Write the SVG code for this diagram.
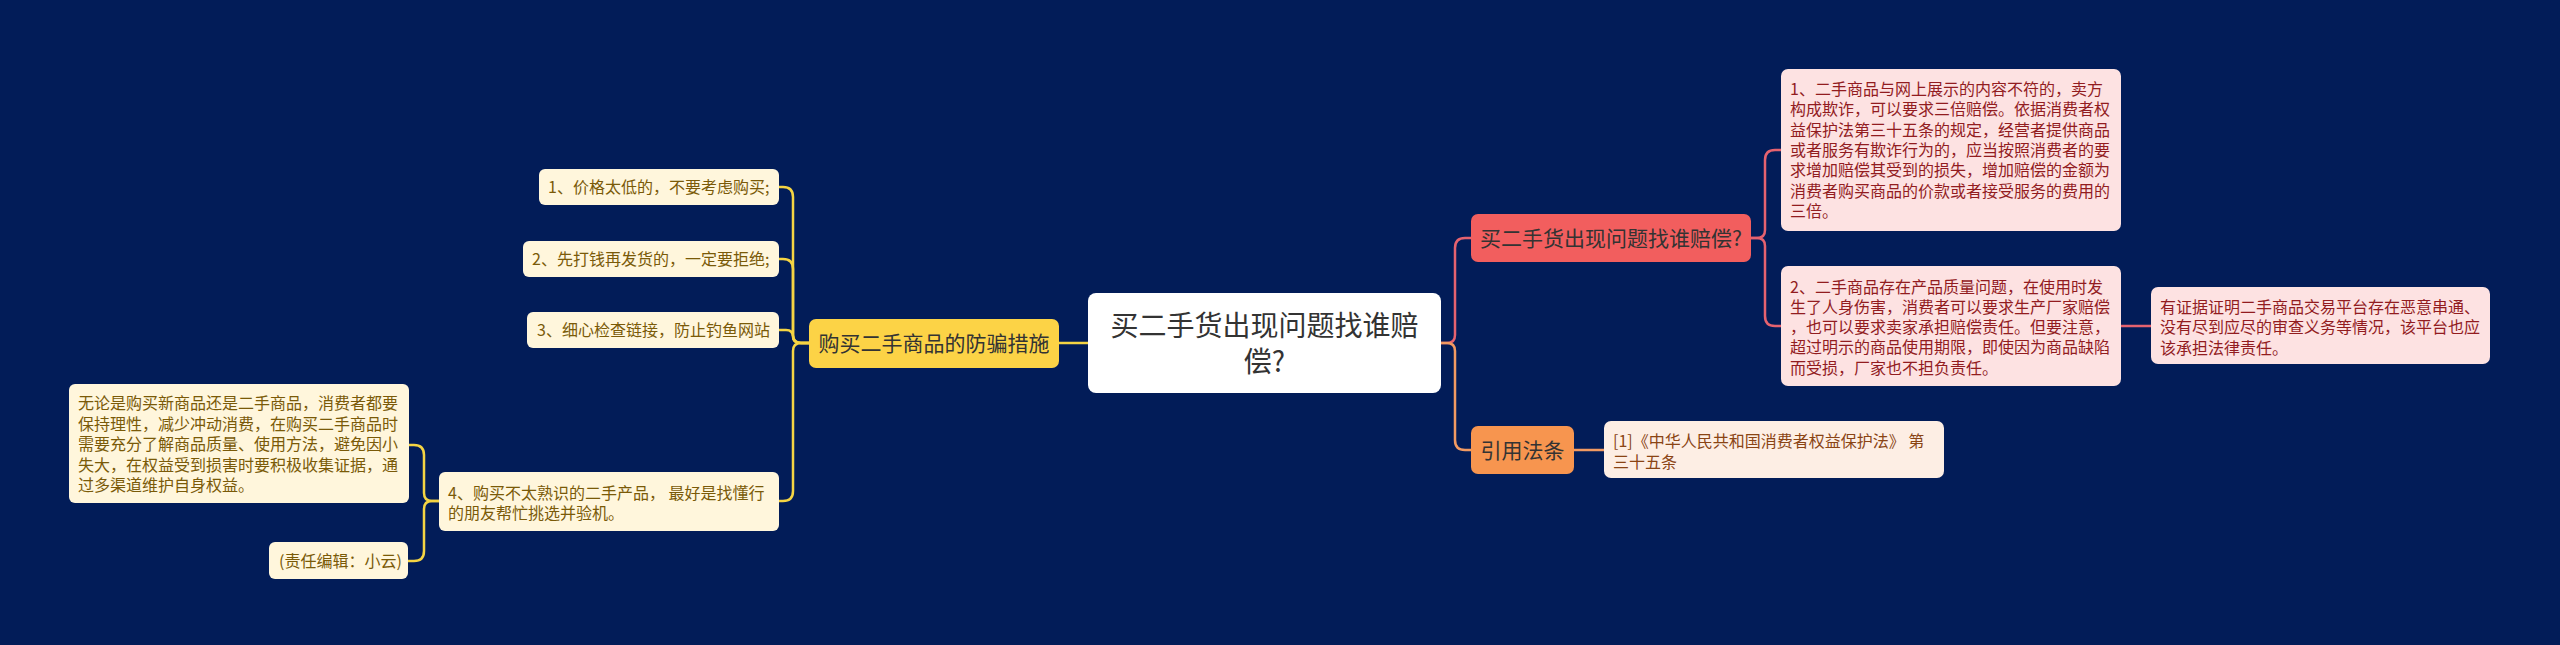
<svg xmlns="http://www.w3.org/2000/svg" width="2560" height="645" viewBox="0 0 2560 645">
<style>
text{font-family:"Noto Sans CJK SC","Noto Sans",sans-serif;}
.main{font-size:21px;fill:#333333;}
.leafY{font-size:16px;fill:#7a5a08;}
.leafR{font-size:16px;fill:#921c1f;}
.leafO{font-size:16px;fill:#8a4414;}
.cy{fill:none;stroke:#f5d443;stroke-width:2.5;}
.cr{fill:none;stroke:#e5626f;stroke-width:2.5;}
.co{fill:none;stroke:#f29a62;stroke-width:2.5;}
</style>
<rect width="2560" height="645" fill="#021c58"/>
<g id="connectors">
<path class="cy" d="M1088 343 H1059"/>
<path class="cr" d="M1441 343 H1447 Q1455 343 1455 335 V248 Q1455 238 1465 238 H1471"/>
<path class="co" d="M1441 343 H1447 Q1455 343 1455 351 V440 Q1455 450 1465 450 H1471"/>
<path class="cr" d="M1751 238 H1757 Q1765 238 1765 230 V160 Q1765 150 1775 150 H1781"/>
<path class="cr" d="M1751 238 H1757 Q1765 238 1765 246 V316 Q1765 326 1775 326 H1781"/>
<path class="cr" d="M2121 326 H2151"/>
<path class="co" d="M1574 450 H1604"/>
<path class="cy" d="M809 343 H801 Q793 343 793 335 V197 Q793 187 783 187 H779"/>
<path class="cy" d="M809 343 H801 Q793 343 793 335 V269 Q793 259 783 259 H779"/>
<path class="cy" d="M809 343 H801 Q793 343 793 337 Q793 330 786 330 H779"/>
<path class="cy" d="M809 343 H801 Q793 343 793 351 V491 Q793 501 783 501 H779"/>
<path class="cy" d="M439 501 H432 Q424 501 424 493 V455 Q424 445 414 445 H409"/>
<path class="cy" d="M439 501 H432 Q424 501 424 509 V551 Q424 561 414 561 H408"/>
</g>
<g id="center">
<rect x="1088" y="293" width="353" height="100" rx="8" fill="#ffffff"/>
<text x="1264.5" y="335.5" font-size="28" fill="#333333" text-anchor="middle">买二手货出现问题找谁赔</text>
<text x="1264.5" y="371.5" font-size="28" fill="#333333" text-anchor="middle">偿?</text>
</g>
<g id="branch-red">
<rect x="1471" y="214" width="280" height="48" rx="7" fill="#f25e5e"/>
<text class="main" x="1611" y="246" text-anchor="middle">买二手货出现问题找谁赔偿?</text>
</g>
<g id="leaf-r1">
<rect x="1781" y="69" width="340" height="162" rx="7" fill="#fde2e2"/>
<text class="leafR" x="1790"><tspan x="1790" y="95">1、二手商品与网上展示的内容不符的，卖方</tspan><tspan x="1790" y="115.3">构成欺诈，可以要求三倍赔偿。依据消费者权</tspan><tspan x="1790" y="135.6">益保护法第三十五条的规定，经营者提供商品</tspan><tspan x="1790" y="155.9">或者服务有欺诈行为的，应当按照消费者的要</tspan><tspan x="1790" y="176.2">求增加赔偿其受到的损失，增加赔偿的金额为</tspan><tspan x="1790" y="196.5">消费者购买商品的价款或者接受服务的费用的</tspan><tspan x="1790" y="216.8">三倍。</tspan></text>
</g>
<g id="leaf-r2">
<rect x="1781" y="266" width="340" height="120" rx="7" fill="#fde2e2"/>
<text class="leafR" x="1790"><tspan x="1790" y="292.5">2、二手商品存在产品质量问题，在使用时发</tspan><tspan x="1790" y="312.8">生了人身伤害，消费者可以要求生产厂家赔偿</tspan><tspan x="1790" y="333.1">，也可以要求卖家承担赔偿责任。但要注意，</tspan><tspan x="1790" y="353.4">超过明示的商品使用期限，即使因为商品缺陷</tspan><tspan x="1790" y="373.7">而受损，厂家也不担负责任。</tspan></text>
</g>
<g id="leaf-r3">
<rect x="2151" y="287" width="339" height="77" rx="7" fill="#fde2e2"/>
<text class="leafR" x="2160"><tspan x="2160" y="313">有证据证明二手商品交易平台存在恶意串通、</tspan><tspan x="2160" y="333.3">没有尽到应尽的审查义务等情况，该平台也应</tspan><tspan x="2160" y="353.6">该承担法律责任。</tspan></text>
</g>
<g id="branch-orange">
<rect x="1471" y="426" width="103" height="48" rx="7" fill="#f7954f"/>
<text class="main" x="1522.5" y="458" text-anchor="middle">引用法条</text>
</g>
<g id="leaf-o1">
<rect x="1604" y="421" width="340" height="57" rx="7" fill="#fdeee4"/>
<text class="leafO" x="1613"><tspan x="1613" y="447">[1]《中华人民共和国消费者权益保护法》 第</tspan><tspan x="1613" y="468">三十五条</tspan></text>
</g>
<g id="branch-yellow">
<rect x="809" y="319" width="250" height="49" rx="7" fill="#fcd346"/>
<text class="main" x="934" y="351" text-anchor="middle">购买二手商品的防骗措施</text>
</g>
<g id="leaf-y1">
<rect x="539" y="169" width="240" height="36" rx="6" fill="#fff6dc"/>
<text class="leafY" x="548" y="193">1、价格太低的，不要考虑购买;</text>
</g>
<g id="leaf-y2">
<rect x="523" y="241" width="256" height="36" rx="6" fill="#fff6dc"/>
<text class="leafY" x="532" y="265">2、先打钱再发货的，一定要拒绝;</text>
</g>
<g id="leaf-y3">
<rect x="527" y="312" width="252" height="36" rx="6" fill="#fff6dc"/>
<text class="leafY" x="537" y="336">3、细心检查链接，防止钓鱼网站</text>
</g>
<g id="leaf-y4">
<rect x="439" y="472" width="340" height="59" rx="6" fill="#fff6dc"/>
<text class="leafY" x="448"><tspan x="448" y="498.5">4、购买不太熟识的二手产品， 最好是找懂行</tspan><tspan x="448" y="519">的朋友帮忙挑选并验机。</tspan></text>
</g>
<g id="leaf-y4a">
<rect x="69" y="384" width="340" height="119" rx="6" fill="#fff6dc"/>
<text class="leafY" x="78"><tspan x="78" y="409">无论是购买新商品还是二手商品，消费者都要</tspan><tspan x="78" y="429.5">保持理性，减少冲动消费，在购买二手商品时</tspan><tspan x="78" y="450">需要充分了解商品质量、使用方法，避免因小</tspan><tspan x="78" y="470.5">失大，在权益受到损害时要积极收集证据，通</tspan><tspan x="78" y="491">过多渠道维护自身权益。</tspan></text>
</g>
<g id="leaf-y4b">
<rect x="269" y="542" width="139" height="37" rx="6" fill="#fff6dc"/>
<text class="leafY" x="279" y="566.5">(责任编辑：小云)</text>
</g>
</svg>
